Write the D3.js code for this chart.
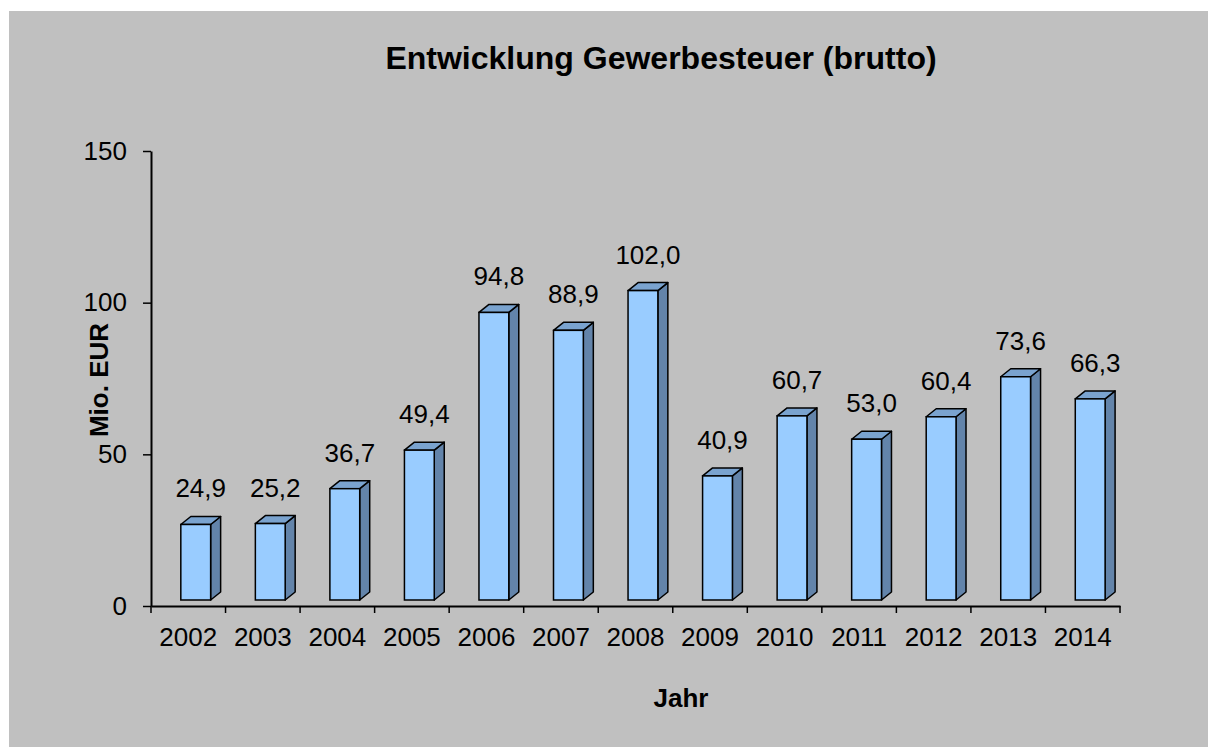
<!DOCTYPE html>
<html>
<head>
<meta charset="utf-8">
<script src="https://cdn.jsdelivr.net/npm/d3@7"></script>
<style>
  body { margin: 0; background: #fff; }
  svg text { font-family: "Liberation Sans", Arial, sans-serif; fill: #000; }
</style>
</head>
<body>
<div class="chart"></div>
<script>
const years = ["2002", "2003", "2004", "2005", "2006", "2007", "2008", "2009", "2010", "2011", "2012", "2013", "2014"];
const values = [24.9, 25.2, 36.7, 49.4, 94.8, 88.9, 102.0, 40.9, 60.7, 53.0, 60.4, 73.6, 66.3];
const yTicks = [0, 50, 100, 150];

const w = 1208;
const h = 747;
const plotLeft = 151, plotRight = 1120, plotTop = 151, plotBottom = 606;
const depthX = 10, depthY = 8, floor = 6;
const fontSize = 26;

const svg = d3.select(".chart")
    .append("svg")
    .attr("width", w)
    .attr("height", h);

// grey chart area
svg.append("rect")
    .attr("x", 9)
    .attr("y", 11)
    .attr("width", w - 9)
    .attr("height", h - 11)
    .attr("fill", "#c0c0c0");

const x = d3.scaleBand()
    .domain(years)
    .range([plotLeft, plotRight]);

const y = d3.scaleLinear()
    .domain([0, 150])
    .range([plotBottom, plotTop]);

// bars (pseudo 3d)
const bw = x.bandwidth() * 0.4;
const bars = svg.selectAll("g.bar")
    .data(values)
    .enter()
    .append("g")
    .attr("class", "bar");

const fx = (d, i) => x(years[i]) + x.bandwidth() * 0.4;
const base = plotBottom - floor;

bars.append("path")
    .attr("d", function (d, i) {
        const x0 = fx(d, i) + bw, y0 = y(d) - floor;
        return `M${x0},${y0} L${x0 + depthX},${y0 - depthY} L${x0 + depthX},${base - depthY} L${x0},${base} Z`;
    })
    .attr("fill", "#6384aa")
    .attr("stroke", "#000")
    .attr("stroke-width", 1.5)
    .attr("stroke-linejoin", "round");

bars.append("path")
    .attr("d", function (d, i) {
        const x0 = fx(d, i), y0 = y(d) - floor;
        return `M${x0},${y0} L${x0 + depthX},${y0 - depthY} L${x0 + bw + depthX},${y0 - depthY} L${x0 + bw},${y0} Z`;
    })
    .attr("fill", "#7aa3cf")
    .attr("stroke", "#000")
    .attr("stroke-width", 1.5)
    .attr("stroke-linejoin", "round");

bars.append("rect")
    .attr("x", fx)
    .attr("y", d => y(d) - floor)
    .attr("width", bw)
    .attr("height", d => base - (y(d) - floor))
    .attr("fill", "#99ccff")
    .attr("stroke", "#000")
    .attr("stroke-width", 1.5);

// value labels
svg.selectAll("text.val")
    .data(values)
    .enter()
    .append("text")
    .attr("class", "val")
    .attr("x", (d, i) => fx(d, i) + (bw + depthX) / 2)
    .attr("y", d => y(d) - floor - 27)
    .attr("text-anchor", "middle")
    .attr("font-size", fontSize)
    .text(d => d.toFixed(1).replace(".", ","));

// y axis
const yAxis = svg.append("g")
    .attr("transform", `translate(${plotLeft},0)`)
    .call(d3.axisLeft(y).tickValues(yTicks).tickSizeOuter(0).tickSizeInner(8).tickPadding(16));
yAxis.select(".domain").attr("stroke", "#000").attr("stroke-width", 2);
yAxis.selectAll(".tick line").attr("stroke", "#000").attr("stroke-width", 1.5);
yAxis.selectAll(".tick text")
    .attr("font-size", fontSize)
    .attr("font-family", "Liberation Sans, Arial, sans-serif");

// x axis
const xAxis = svg.append("g")
    .attr("transform", `translate(0,${plotBottom})`)
    .call(d3.axisBottom(x).tickSize(0).tickPadding(22));
xAxis.select(".domain").attr("stroke", "#000").attr("stroke-width", 2);
xAxis.selectAll(".tick text")
    .attr("font-size", fontSize)
    .attr("font-family", "Liberation Sans, Arial, sans-serif");

// category separators below the axis
svg.selectAll("line.sep")
    .data(years.concat(["end"]))
    .enter()
    .append("line")
    .attr("class", "sep")
    .attr("x1", (d, i) => plotLeft + i * x.step())
    .attr("x2", (d, i) => plotLeft + i * x.step())
    .attr("y1", plotBottom)
    .attr("y2", plotBottom + 7)
    .attr("stroke", "#000")
    .attr("stroke-width", 1.5);

// titles
svg.append("text")
    .attr("x", 661)
    .attr("y", 69)
    .attr("text-anchor", "middle")
    .attr("font-size", 32)
    .attr("font-weight", "bold")
    .text("Entwicklung Gewerbesteuer (brutto)");

svg.append("text")
    .attr("text-anchor", "middle")
    .attr("font-size", fontSize)
    .attr("font-weight", "bold")
    .attr("transform", "translate(108, 380) rotate(-90)")
    .text("Mio. EUR");

svg.append("text")
    .attr("x", 681)
    .attr("y", 707)
    .attr("text-anchor", "middle")
    .attr("font-size", fontSize)
    .attr("font-weight", "bold")
    .text("Jahr");
</script>
</body>
</html>
